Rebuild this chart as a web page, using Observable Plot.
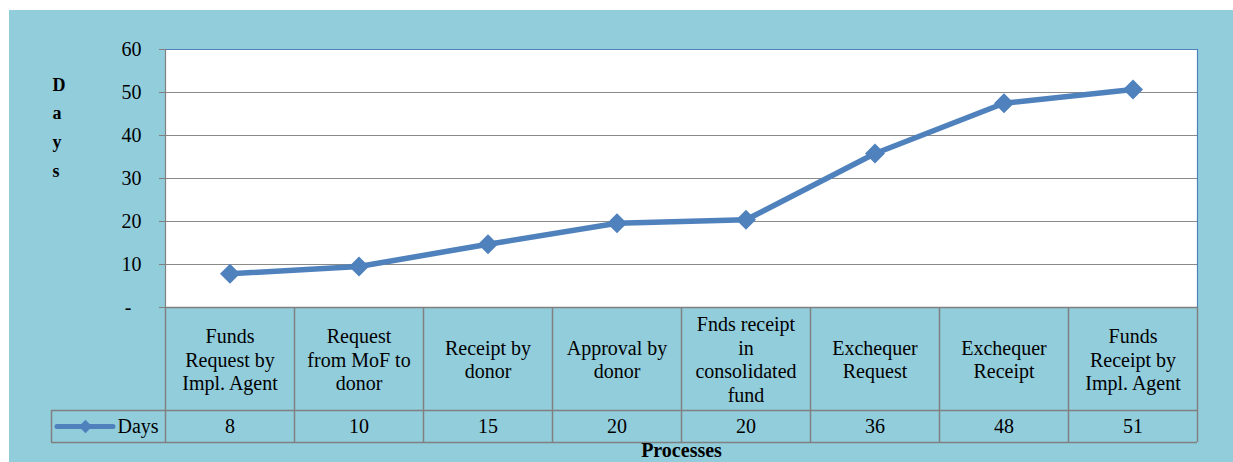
<!DOCTYPE html>
<html><head><meta charset="utf-8">
<script src="https://cdn.jsdelivr.net/npm/d3@7"></script>
<script src="https://cdn.jsdelivr.net/npm/@observablehq/plot@0.6"></script>
<style>
body{margin:0;background:#fff;font-family:'Liberation Serif', serif;}
#wrap{position:relative;width:1233px;height:462px;overflow:hidden;}
#bg{position:absolute;left:9px;top:10px;width:1224px;height:452px;background:#92CDDC;}
#chart,#table{position:absolute;left:0;}
#chart{top:0}
#table{top:297px}
svg [aria-label="y-axis tick"], svg [aria-label="y-axis tick"] *{stroke:#808080 !important;}
</style></head>
<body>
<div id="wrap"><div id="bg"></div><div id="chart"></div><div id="table"></div></div>
<script>
// ---- data ----
const processes = [
  "Funds\nRequest by\nImpl. Agent",
  "Request\nfrom MoF to\ndonor",
  "Receipt by\ndonor",
  "Approval by\ndonor",
  "Fnds receipt\nin\nconsolidated\nfund",
  "Exchequer\nRequest",
  "Exchequer\nReceipt",
  "Funds\nReceipt by\nImpl. Agent"
];
const days = [7.85, 9.55, 14.7, 19.6, 20.4, 35.8, 47.5, 50.7];
const dayLabels = ["8", "10", "15", "20", "20", "36", "48", "51"];
const yTicks = [0, 10, 20, 30, 40, 50, 60];
const seriesName = "Days";
const yTitle = "Days";
const xTitle = "Processes";

// ---- styling / layout ----
const BLUE = "#4F81BD", GRID = "#8a8a8a", BORDER = "#808080";
const FONT = "Liberation Serif";
const W = 1233, ML = 165, MR = 36;
const colW = (W - ML - MR) / processes.length;
const legendLeft = -0.5 - 114 / colW;     // legend cell starts 114px left of the table
const labelRow = [0, 103], valueRow = [103, 135];
const valueMid = (valueRow[0] + valueRow[1]) / 2;

const data = processes.map((p, i) => ({i, p, v: days[i], lab: dayLabels[i]}));

const chart = Plot.plot({
  width: W, height: 320,
  marginLeft: ML, marginRight: MR, marginTop: 49, marginBottom: 13,
  style: {background: "transparent", fontFamily: FONT, fontSize: "20px", color: "#000", overflow: "visible"},
  x: {domain: [-0.5, processes.length - 0.5], axis: null},
  y: {domain: [0, 60], axis: null},
  marks: [
    Plot.frame({fill: "white", stroke: null}),
    Plot.ruleY(yTicks.filter(d => d > 0 && d < 60), {stroke: GRID, strokeWidth: 1.2}),
    Plot.ruleY([60], {stroke: BLUE, strokeWidth: 1.2}),
    Plot.ruleX([processes.length - 0.5], {stroke: BLUE, strokeWidth: 1.2}),
    Plot.ruleX([-0.5], {stroke: BORDER, strokeWidth: 1.2}),
    Plot.axisY({ticks: yTicks, tickFormat: d => d === 0 ? "-\u2007" : String(d), tickSize: 6, tickPadding: 18, label: null, fontSize: 20, fontFamily: FONT}),
    Plot.line(data, {x: "i", y: "v", stroke: BLUE, strokeWidth: 5.5}),
    Plot.dot(data, {x: "i", y: "v", symbol: "diamond2", r: 9, fill: BLUE, stroke: null}),
    Plot.text([yTitle.split("").join("\n")], {frameAnchor: "left", dx: -113, dy: -54, fontWeight: "bold", fontSize: 18, lineHeight: 1.6, fill: "#000", fontFamily: FONT})
  ]
});
document.getElementById("chart").append(chart);

const table = Plot.plot({
  width: W, height: 165,
  marginLeft: ML, marginRight: MR, marginTop: 10, marginBottom: 20,
  style: {background: "transparent", fontFamily: FONT, fontSize: "20px", color: "#000", overflow: "visible"},
  x: {domain: [-0.5, processes.length - 0.5], axis: null},
  y: {domain: [0, 135], range: [10, 145], axis: null},
  marks: [
    Plot.ruleX(d3.range(processes.length + 1).map(k => k - 0.5), {y1: labelRow[0], y2: valueRow[1], stroke: BORDER, strokeWidth: 1.5}),
    Plot.ruleY([labelRow[0]], {x1: -0.5, x2: processes.length - 0.5, stroke: BORDER, strokeWidth: 1.5}),
    Plot.ruleY([valueRow[0], valueRow[1]], {x1: legendLeft, x2: processes.length - 0.5, stroke: BORDER, strokeWidth: 1.5}),
    Plot.ruleX([legendLeft], {y1: valueRow[0], y2: valueRow[1], stroke: BORDER, strokeWidth: 1.5}),
    Plot.text(data, {x: "i", y: (labelRow[0] + labelRow[1]) / 2, text: "p", lineAnchor: "middle", lineHeight: 1.18, fill: "#000", fontFamily: FONT}),
    Plot.text(data, {x: "i", y: valueMid, text: "lab", fill: "#000", fontFamily: FONT}),
    // legend key
    Plot.ruleY([valueMid], {x1: legendLeft + 6 / colW, x2: legendLeft + 62 / colW, stroke: BLUE, strokeWidth: 5, strokeLinecap: "round"}),
    Plot.dot([0], {x: legendLeft + 34 / colW, y: valueMid, symbol: "diamond2", r: 6, fill: BLUE}),
    Plot.text([seriesName], {x: legendLeft + 66 / colW, y: valueMid, textAnchor: "start", fill: "#000", fontFamily: FONT}),
    Plot.text([xTitle], {x: (processes.length - 1) / 2, y: valueRow[1] + 8, fontWeight: "bold", fill: "#000", fontFamily: FONT})
  ]
});
document.getElementById("table").append(table);
</script>
</body></html>
